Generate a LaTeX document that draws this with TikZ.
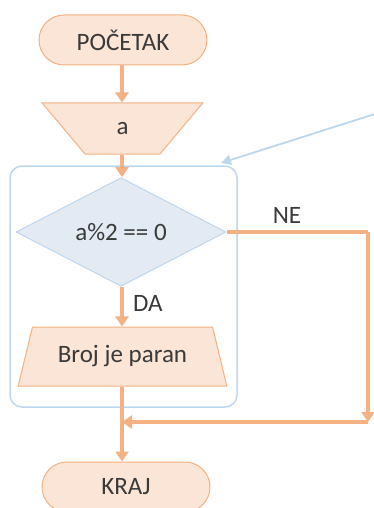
\documentclass[tikz,border=0pt]{standalone}
\usepackage{fontspec}
\setmainfont{Carlito}
\usetikzlibrary{shapes.geometric,shapes.misc,arrows.meta}
\definecolor{orl}{HTML}{F4B183}
\definecolor{orf}{HTML}{FBE5D6}
\definecolor{bll}{HTML}{BDD7EE}
\definecolor{blf}{HTML}{E2EAF3}
\definecolor{txt}{HTML}{3A3A3A}
\begin{document}
\begin{tikzpicture}[x=1pt,y=-1pt,
  every node/.style={text=txt,font=\fontsize{25}{28}\selectfont},
  term/.style={rounded rectangle,draw=orl,fill=orf,line width=1pt,minimum width=168pt,minimum height=50pt,inner sep=0pt},
  iobox/.style={trapezium,trapezium stretches=true,draw=orl,fill=orf,line width=1pt,inner sep=0pt},
  decide/.style={diamond,draw=bll,fill=blf,line width=1pt,minimum width=210pt,minimum height=90pt,inner sep=0pt},
  flow/.style={draw=orl,line width=3.5pt,-{Triangle[length=10pt,width=13pt]}},
  flowline/.style={draw=orl,line width=3.5pt},
  bluebox/.style={draw=bll,line width=1.5pt,rounded corners=12pt,minimum width=227pt,minimum height=241pt,inner sep=0pt},
  bluearrow/.style={draw=bll,line width=1.8pt,-{Triangle[length=10pt,width=10pt]}}]
\useasboundingbox (0,0) rectangle (374,508);
\node[bluebox] (loop) at (123.5,286.5) {};
\node[term] (start) at (123,40) {POČETAK};
\node[iobox,shape border rotate=180,trapezium angle=61,minimum width=161pt,minimum height=51pt] (inp) at (122.5,128.5) {a};
\node[decide] (dia) at (121,232) {a\%2 == 0};
\node[iobox,trapezium angle=64.5,minimum width=209pt,minimum height=59pt] (out) at (122.5,356.5) {Broj je paran};
\node[term] (end) at (126,487) {KRAJ};
\coordinate (c1) at (368,232);
\coordinate (c2) at (368,422);
\coordinate (j) at (122,422);
\coordinate (bsrc) at (378,113);
\coordinate (btip) at (221,163);
\draw[flow] (start.south -| 122,0) -- (inp.north -| 122,0);
\draw[flow] (inp.south -| 122,0) -- (dia.north -| 122,0);
\draw[flow] (dia.south -| 122,0) -- node[right=6pt,pos=0.42]{DA} (out.north -| 122,0);
\draw[flowline] (dia.east) -- (c1);
\draw[flow] (c1) -- (c2);
\draw[flow] (c2) -- (j);
\draw[flow] (out.south -| 122,0) -- (end.north -| 122,0);
\node at (287,215) {NE};
\draw[bluearrow] (bsrc) -- (btip);
\end{tikzpicture}
\end{document}
